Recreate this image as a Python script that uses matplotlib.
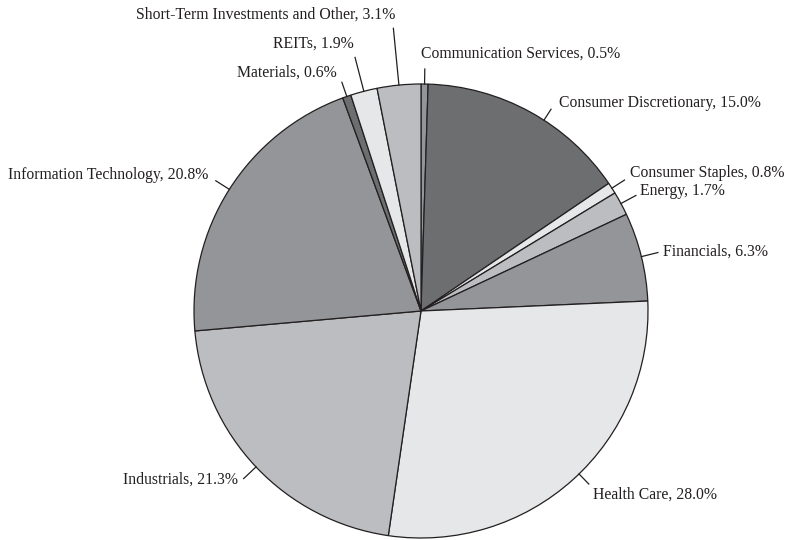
import matplotlib.pyplot as plt
import numpy as np

sectors = ['Communication Services', 'Consumer Discretionary', 'Consumer Staples',
           'Energy', 'Financials', 'Health Care', 'Industrials',
           'Information Technology', 'Materials', 'REITs',
           'Short-Term Investments and Other']
weights = [0.5, 15.0, 0.8, 1.7, 6.3, 28.0, 21.3, 20.8, 0.6, 1.9, 3.1]

colors = ['#939598', '#6d6e70', '#e6e7e8', '#bcbdc0', '#939598', '#e6e7e8',
          '#bcbdc0', '#939598', '#6d6e70', '#e6e7e8', '#bcbdc0']

# leader lines: angle nudge (deg, clockwise), outer radius (px), text offset
nudge = [0, 4, 0, 0, 0, -2, 0, 0, 0, 0, 0]
lead_r = [242, 240, 242, 244, 244, 241, 244, 243, 242, 262, 284]
text_off = [(-4, 15, 'left'), (8, 6, 'left'), (5, 7, 'left'), (4, 4, 'left'),
            (5, 1, 'left'), (4, -11, 'left'), (-6, -1, 'right'),
            (-7, 6, 'right'), (-5, 10, 'right'), (-1, 14, 'right'),
            (2, 14, 'right')]

W, H = 791, 540
cx, cy, R = 421, H - 311, 227

fig = plt.figure(figsize=(W / 100, H / 100), dpi=100)
ax = fig.add_axes([0, 0, 1, 1])

wedges, _ = ax.pie(weights, colors=colors, startangle=90, counterclock=False,
                   center=(cx, cy), radius=R,
                   wedgeprops=dict(edgecolor='#231f20', linewidth=0.9))
ax.set_xlim(0, W)
ax.set_ylim(0, H)
ax.set_aspect('equal')
ax.axis('off')

for w, name, val, nd, lr, (dx, dy, ha) in zip(wedges, sectors, weights, nudge,
                                             lead_r, text_off):
    ang = np.deg2rad((w.theta1 + w.theta2) / 2 - nd)
    x0, y0 = cx + R * np.cos(ang), cy + R * np.sin(ang)
    x1, y1 = cx + lr * np.cos(ang), cy + lr * np.sin(ang)
    ax.plot([x0, x1], [y0, y1], color='#231f20', linewidth=0.9)
    ax.text(x1 + dx, y1 + dy, f'{name}, {val:.1f}%', ha=ha, va='center',
            fontsize=11.3, family='Liberation Serif', color='#231f20')

plt.savefig('out.png', dpi=100)
plt.close()
